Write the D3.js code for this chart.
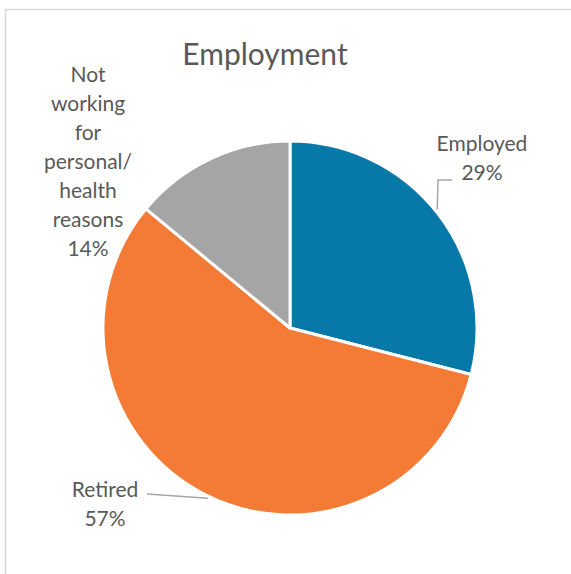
<!DOCTYPE html>
<html>
<head>
<meta charset="utf-8">
<script src="https://cdn.jsdelivr.net/npm/d3@7"></script>
<style>
  html, body { margin: 0; padding: 0; background: #fff; }
  svg { display: block; }
  text { font-family: Lato, "Open Sans", sans-serif; fill: #595959; }
</style>
</head>
<body>
<svg id="chart" width="571" height="574"></svg>
<script>
// Employment breakdown (percent of respondents)
const categories = ["Employed", "Retired", "Not working for personal/ health reasons"];
const labelLines = [["Employed"], ["Retired"], ["Not", "working", "for", "personal/", "health", "reasons"]];
const values = [29, 57, 14];
const colors = ["#0779A8", "#F47B35", "#A5A5A5"];
const title = "Employment";

const W = 571, H = 574;
const cx = 290, cy = 328, R = 187;

const svg = d3.select("#chart");

// chart frame (top and left edges visible)
svg.append("path")
  .attr("d", `M5.5,${H} L5.5,9.5 L${W},9.5`)
  .attr("fill", "none")
  .attr("stroke", "#D9D9D9")
  .attr("stroke-width", 1.5);

svg.append("text")
  .attr("x", 265)
  .attr("y", 65)
  .attr("text-anchor", "middle")
  .style("font-size", "30px")
  .text(title);

const pie = d3.pie().sort(null).value(d => d)(values);
const arc = d3.arc().innerRadius(0).outerRadius(R);

const g = svg.append("g").attr("transform", `translate(${cx},${cy})`);
g.selectAll("path.slice")
  .data(pie)
  .join("path")
  .attr("class", "slice")
  .attr("d", arc)
  .attr("fill", (d, i) => colors[i])
  .attr("stroke", "#fff")
  .attr("stroke-width", 3)
  .attr("stroke-linejoin", "round");

// point on the rim at a fraction of a slice's sweep
function rimPoint(d, frac, r) {
  const a = d.startAngle + (d.endAngle - d.startAngle) * frac;
  return [cx + r * Math.sin(a), cy - r * Math.cos(a)];
}

// label placement: anchor center x, first baseline y, and leader geometry
const labelLayout = [
  { x: 482, y: 151, leader: { frac: 0.49, elbow: [[438, 180], [452, 180]] } },
  { x: 105, y: 497, leader: { frac: 0.494, elbow: [[147, 494]] } },
  { x: 88,  y: 82,  leader: null }
];

const lineH = 29;
const labelG = svg.append("g");

pie.forEach((d, i) => {
  const L = labelLayout[i];
  const t = labelG.append("text")
    .attr("text-anchor", "middle")
    .style("font-size", "21px");
  const lines = labelLines[i].concat([values[i] + "%"]);
  lines.forEach((s, k) => {
    t.append("tspan").attr("x", L.x).attr("y", L.y + k * lineH).text(s);
  });
  if (L.leader) {
    const p0 = rimPoint(d, L.leader.frac, R + 2);
    const pts = [p0].concat(L.leader.elbow);
    labelG.append("path")
      .attr("d", d3.line()(pts))
      .attr("fill", "none")
      .attr("stroke", "#A6A6A6")
      .attr("stroke-width", 1.5);
  }
});
</script>
</body>
</html>
